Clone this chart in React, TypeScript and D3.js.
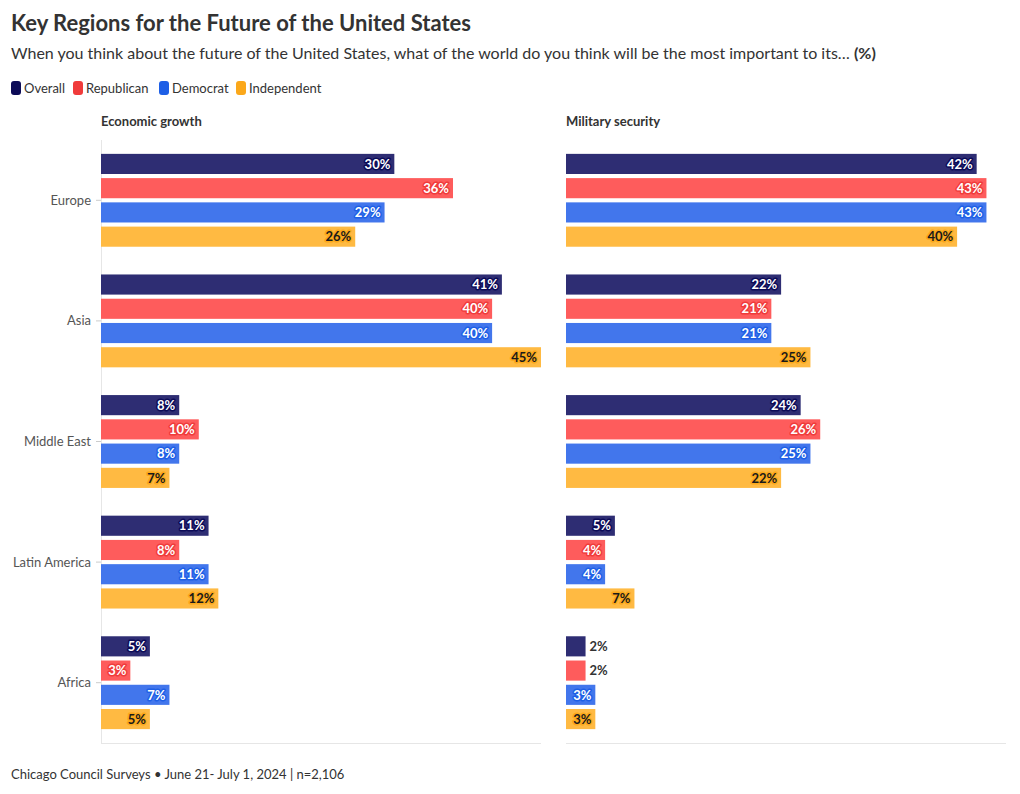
import React from "react";
import * as d3 from "d3";

const regions = ["Europe", "Asia", "Middle East", "Latin America", "Africa"];
const seriesNames = ["Overall", "Republican", "Democrat", "Independent"];
const panelTitles = ["Economic growth", "Military security"];

const economicOverall = [30, 41, 8, 11, 5];
const economicRepublican = [36, 40, 10, 8, 3];
const economicDemocrat = [29, 40, 8, 11, 7];
const economicIndependent = [26, 45, 7, 12, 5];

const militaryOverall = [42, 22, 24, 5, 2];
const militaryRepublican = [43, 21, 26, 4, 2];
const militaryDemocrat = [43, 21, 25, 4, 3];
const militaryIndependent = [40, 25, 22, 7, 3];

const panels = [
  [economicOverall, economicRepublican, economicDemocrat, economicIndependent],
  [militaryOverall, militaryRepublican, militaryDemocrat, militaryIndependent],
];

const barColors = ["#2e2d73", "#fe5c5c", "#4276ec", "#ffba42"];
const legendColors = ["#0c0b57", "#f03b3b", "#1e5fe6", "#fba81a"];
const labelColors = ["#ffffff", "#ffffff", "#ffffff", "#1a1a1a"];

const FONT = "Lato, 'Source Sans Pro', 'Open Sans', sans-serif";

export default function App() {
  const W = 1020;
  const H = 794;
  const panelX = [101, 566];
  const panelW = 440;
  const top = 140;
  const bottom = 743;

  const x = d3.scaleLinear().domain([0, 45]).range([0, panelW]);
  const y = d3.scaleBand<string>().domain(regions).range([top, bottom]).paddingInner(0.23).paddingOuter(0.115);
  const inner = d3.scaleBand<string>().domain(seriesNames).range([0, y.bandwidth()]).paddingInner(0.17).paddingOuter(0);

  const legendX = [11, 73, 159, 236];

  return (
    <svg width={W} height={H} style={{ position: "absolute", left: 0, top: 0, fontFamily: FONT }}>
      <rect width={W} height={H} fill="#fff" />
      <text x={11} y={31} fontSize={22} fontWeight={700} fill="#333">
        Key Regions for the Future of the United States
      </text>
      <text x={11} y={59} fontSize={16} fill="#333">
        When you think about the future of the United States, what of the world do you think will be the most important to its…{" "}
        <tspan fontWeight={700}>(%)</tspan>
      </text>
      {seriesNames.map((s, i) => (
        <g key={s}>
          <rect x={legendX[i]} y={81} width={10} height={14} rx={3} fill={legendColors[i]} />
          <text x={legendX[i] + 13} y={92.5} fontSize={13} fill="#333">
            {s}
          </text>
        </g>
      ))}
      {panels.map((series, p) => (
        <g key={p} transform={`translate(${panelX[p]},0)`}>
          <text x={0} y={125.5} fontSize={13} fontWeight={700} fill="#333">
            {panelTitles[p]}
          </text>
          {p === 0 && (
            <g>
              <line x1={0.5} x2={0.5} y1={top} y2={bottom} stroke="#e6e6e6" />
              {regions.map((r) => {
                const cy = (y(r) as number) + y.bandwidth() / 2;
                return (
                  <g key={r}>
                    <line x1={-5} x2={0} y1={cy} y2={cy} stroke="#ccc" />
                    <text x={-10} y={cy} dy="0.35em" textAnchor="end" fontSize={13} fill="#555">
                      {r}
                    </text>
                  </g>
                );
              })}
            </g>
          )}
          <line x1={0} x2={panelW} y1={bottom + 0.5} y2={bottom + 0.5} stroke="#e6e6e6" />
          {regions.map((r, ri) =>
            seriesNames.map((s, si) => {
              const v = series[si][ri];
              const by = (y(r) as number) + (inner(s) as number);
              const bh = inner.bandwidth();
              const bw = x(v);
              const label = `${v}%`;
              const labelW = label.length * 7.5 + 6;
              const inside = bw > labelW;
              return (
                <g key={r + s}>
                  <rect x={0} y={by} width={bw} height={bh} fill={barColors[si]} />
                  {inside ? (
                    <text
                      x={bw - 4}
                      y={by + bh / 2}
                      dy="0.36em"
                      textAnchor="end"
                      fontSize={13}
                      fontWeight={700}
                      fill={labelColors[si]}
                      stroke={legendColors[si]}
                      strokeWidth={3}
                      paintOrder="stroke"
                      strokeLinejoin="round"
                    >
                      {label}
                    </text>
                  ) : (
                    <text x={bw + 4} y={by + bh / 2} dy="0.36em" fontSize={13} fontWeight={700} fill="#333">
                      {label}
                    </text>
                  )}
                </g>
              );
            })
          )}
        </g>
      ))}
      <text x={11} y={779} fontSize={13} fill="#333">
        Chicago Council Surveys • June 21- July 1, 2024 | n=2,106
      </text>
    </svg>
  );
}
